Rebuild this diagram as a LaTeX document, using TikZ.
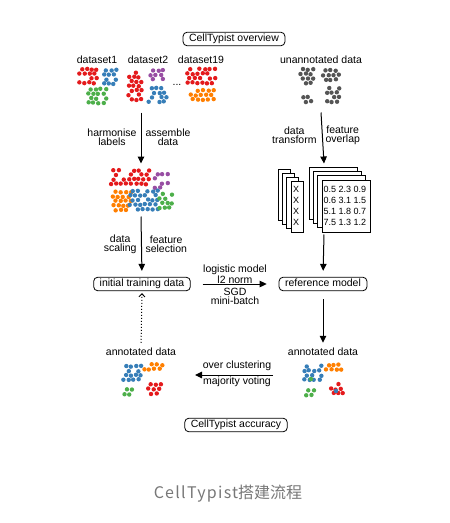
\documentclass[tikz,border=0pt]{standalone}
\usepackage{fontspec}
\setmainfont{Liberation Sans}
\newfontfamily\cjk{Noto Sans CJK SC}
\usetikzlibrary{arrows.meta}

\definecolor{cRed}{RGB}{228,26,28}
\definecolor{cBlue}{RGB}{55,126,184}
\definecolor{cGreen}{RGB}{77,175,74}
\definecolor{cPurple}{RGB}{152,78,163}
\definecolor{cOrange}{RGB}{255,127,0}
\definecolor{cGray}{RGB}{85,85,85}
\definecolor{capGray}{RGB}{120,120,120}

% dot cluster: centre x, centre y, columns, rows, colour
\newcommand{\dotblob}[5]{%
  \foreach \c in {1,...,#3}{%
    \foreach \r in {1,...,#4}{%
      \pgfmathsetmacro{\keep}{rnd}%
      \ifdim\keep pt>0.15pt
        \fill[#5] ({#1+(\c-(#3+1)/2)*5+(mod(\r,2)-0.5)*2.5+rand*0.6},{#2+(\r-(#4+1)/2)*4.5+rand*0.6}) circle (2.2pt);
      \fi
    }}}

\begin{document}
\begin{tikzpicture}[x=1pt,y=-1pt,line width=1pt,font=\fontsize{10.5}{9.2}\selectfont]
	\tikzstyle{lbl}=[inner sep=0pt,align=center,text height=7.5pt,text depth=2pt]
	\tikzstyle{two}=[inner sep=0pt,align=center]
	\tikzstyle{box}=[lbl,draw,rounded corners=4pt,inner xsep=6pt,inner ysep=2pt,line width=0.8pt]
	\tikzstyle{grp}=[inner sep=0pt]
	\tikzstyle{num}=[inner sep=0pt,font=\fontsize{9}{9}\selectfont]
	\tikzstyle{sheet}=[draw,fill=white,line width=0.6pt]
	\tikzstyle{arr}=[-{Triangle[length=7pt,width=6.5pt]}]
	\useasboundingbox[fill=white] (0,0) rectangle (450,523);
	\pgfmathsetseed{12}

	% titles
	\node(over)[box] at (234,39) {CellTypist overview};
	\node(acc)[box] at (236,425) {CellTypist accuracy};

	% source datasets
	\node(ds1)[lbl] at (97,61) {dataset1};
	\node(ds2)[lbl] at (148,61) {dataset2};
	\node(ds19)[lbl] at (201,61) {dataset19};
	\node(dots)[lbl] at (177,83) {...};
	\dotblob{88}{76}{4}{4}{cRed}
	\dotblob{110}{77}{3}{4}{cBlue}
	\dotblob{97}{96}{4}{4}{cGreen}
	\dotblob{135}{86}{3}{7}{cRed}
	\dotblob{157}{75}{3}{3}{cPurple}
	\dotblob{158}{95}{4}{4}{cBlue}
	\dotblob{201}{76}{6}{4}{cRed}
	\dotblob{202}{95}{5}{3}{cOrange}
	\node(raw)[grp,minimum width=150pt,minimum height=54pt] at (151,85) {};

	% query data
	\node(unann)[lbl] at (321,61) {unannotated data};
	\dotblob{307}{76}{3}{4}{cGray}
	\dotblob{332}{75}{4}{3}{cGray}
	\dotblob{307}{97}{2}{3}{cGray}
	\dotblob{333}{95}{3}{4}{cGray}
	\node(uclust)[grp,minimum width=50pt,minimum height=52pt] at (321,86) {};

	% merged pool
	\dotblob{130}{177}{8}{4}{cRed}
	\dotblob{161}{181}{3}{4}{cPurple}
	\dotblob{122}{201}{4}{5}{cOrange}
	\dotblob{144}{200}{6}{5}{cBlue}
	\dotblob{166}{201}{3}{4}{cGreen}
	\node(pool)[grp,minimum width=66pt,minimum height=52pt] at (141,190) {};

	% sheets
	\foreach \i in {0,...,3} \draw[sheet] ({278+4.3*\i},{169+4*\i}) rectangle ++(12,51);
	\foreach \i in {0,...,3} \draw[sheet] ({309+4.3*\i},{167+4.3*\i}) rectangle ++(48,52);
	\foreach \i in {1,...,4} \node(x\i)[num] at (296,{178+11*\i}) {X};
	\foreach \t [count=\i] in {0.5 2.3 0.9,0.6 3.1 1.5,5.1 1.8 0.7,7.5 1.3 1.2}
		\node(row\i)[num,anchor=west] at (323,{178+11*\i}) {\t};
	\node(stack)[grp,minimum width=92pt,minimum height=70pt] at (324,199) {};

	% model boxes
	\node(train)[box] at (142,284) {initial training data};
	\node(refm)[box] at (323,284) {reference model};

	% annotated results
	\node(annL)[lbl] at (141,353) {annotated data};
	\node(annR)[lbl] at (323,353) {annotated data};
	\dotblob{132}{373}{4}{4}{cBlue}
	\dotblob{153}{367}{4}{2}{cOrange}
	\dotblob{128}{392}{2}{2}{cGreen}
	\dotblob{155}{389}{3}{3}{cRed}
	\dotblob{313}{373}{4}{4}{cBlue}
	\dotblob{335}{367}{4}{2}{cOrange}
	\dotblob{310}{393}{2}{2}{cGreen}
	\dotblob{337}{389}{3}{3}{cRed}
	\fill[cGreen] (311,379) circle (2.2pt);
	\fill[cBlue] (336,391) circle (2.2pt);

	% step labels
	\node(harm)[two,anchor=east] at (137,137) {harmonise\\labels};
	\node(asm)[two,anchor=west] at (145,137) {assemble\\data};
	\node(trf)[two,anchor=east] at (317,135) {data\\transform};
	\node(ovl)[two,anchor=west] at (325,135) {feature\\overlap};
	\node(scl)[two,anchor=east] at (137,244) {data\\scaling};
	\node(sel)[two,anchor=west] at (145,244) {feature\\selection};
	\node(lgm)[two] at (235,274) {logistic model\\l2 norm};
	\node(sgd)[two] at (235,296) {SGD\\mini-batch};
	\node(ovc)[lbl] at (237,366) {over clustering};
	\node(maj)[lbl] at (237,382) {majority voting};
	\coordinate(vs) at (273,375);
	\coordinate(ve) at (195,375);

	% arrows
	\draw[arr](raw.south -| pool.north)--(pool.north);
	\draw[arr](uclust.south)--(stack.north);
	\draw[arr,shorten >=6pt](pool.south)--(train.north);
	\draw[arr,shorten >=6pt](stack.south)--(refm.north);
	\draw[arr,shorten <=12pt,shorten >=12pt](train.east)--(refm.west);
	\draw[arr,shorten <=8pt,shorten >=5pt](refm.south)--(annR.north);
	\draw[arr](vs)--(ve);
	\draw[dotted,-{Straight Barb[length=3pt,width=6pt]},shorten <=5pt,shorten >=2pt](annL.north)--(train.south);

	% caption
	\node(cap)[inner sep=0pt,text=capGray,font=\cjk\fontsize{16}{16}\selectfont] at (228,494) {\addfontfeature{LetterSpace=8}CellTypist\addfontfeature{LetterSpace=0}搭建流程};
\end{tikzpicture}
\end{document}
